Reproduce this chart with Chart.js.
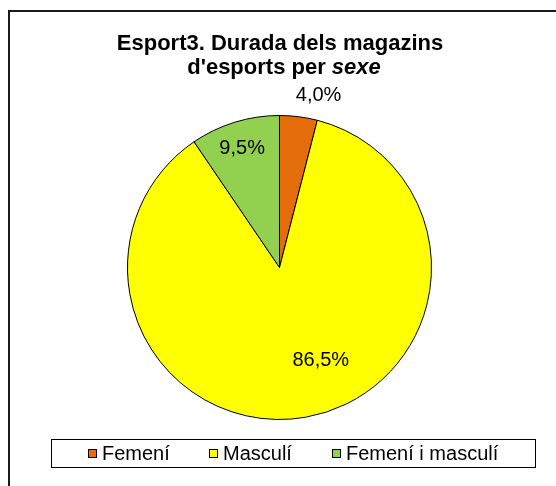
<!DOCTYPE html>
<html>
<head>
<meta charset="utf-8">
<title>Esport3. Durada dels magazins d'esports per sexe</title>
<script src="https://cdn.jsdelivr.net/npm/chart.js@4/dist/chart.umd.min.js"></script>
<style>
  html, body { margin: 0; padding: 0; background: #fff; }
  canvas { display: block; }
</style>
</head>
<body>
<canvas id="sexChart" width="556" height="486"></canvas>
<script>
// Chart data
const categories = ['Femení', 'Masculí', 'Femení i masculí'];
const shares = [4.0, 86.5, 9.5];
const sliceColors = ['#E46C0A', '#FFFF00', '#92D050'];

// Where each percent label sits: [fraction of radius, fraction along the slice]
const labelPlacement = [[1.16, 0.89], [0.67, 0.455], [0.82, 0.49]];

const FONT = 'Arial, "Liberation Sans", sans-serif';

function formatPct(v) {
    return v.toFixed(1).replace('.', ',') + '%';
}

// Outer frame, title, data labels and legend box
const decorations = {
    id: 'decorations',
    beforeDraw(chart) {
        const ctx = chart.ctx;
        ctx.save();
        ctx.strokeStyle = '#1a1a1a';
        ctx.lineWidth = 2;
        ctx.beginPath();
        ctx.moveTo(9, chart.height);
        ctx.lineTo(9, 11);
        ctx.lineTo(chart.width, 11);
        ctx.stroke();
        ctx.restore();
    },
    afterDraw(chart) {
        const ctx = chart.ctx;
        ctx.save();
        ctx.fillStyle = '#000';

        // Title (second line has "sexe" in italic)
        ctx.textBaseline = 'alphabetic';
        ctx.textAlign = 'center';
        ctx.font = 'bold 22px ' + FONT;
        ctx.fillText('Esport3. Durada dels magazins', 280, 50);
        const partA = "d'esports per ";
        const partB = 'sexe';
        ctx.font = 'bold 22px ' + FONT;
        const wA = ctx.measureText(partA).width;
        ctx.font = 'italic bold 22px ' + FONT;
        const wB = ctx.measureText(partB).width;
        let x0 = 284 - (wA + wB) / 2;
        ctx.textAlign = 'left';
        ctx.font = 'bold 22px ' + FONT;
        ctx.fillText(partA, x0, 74);
        ctx.font = 'italic bold 22px ' + FONT;
        ctx.fillText(partB, x0 + wA, 74);

        // Percent labels
        const meta = chart.getDatasetMeta(0);
        ctx.font = '20px ' + FONT;
        ctx.textAlign = 'center';
        ctx.textBaseline = 'middle';
        meta.data.forEach((arc, i) => {
            const p = arc.getProps(['x', 'y', 'startAngle', 'endAngle', 'outerRadius'], true);
            const [rf, af] = labelPlacement[i];
            const a = p.startAngle + (p.endAngle - p.startAngle) * af;
            const r = p.outerRadius * rf;
            ctx.fillText(formatPct(shares[i]), p.x + Math.cos(a) * r, p.y + Math.sin(a) * r);
        });

        // Legend
        const box = { left: 51, top: 439, right: 535, bottom: 467 };
        ctx.strokeStyle = '#000';
        ctx.lineWidth = 1;
        ctx.strokeRect(box.left + 0.5, box.top + 0.5, box.right - box.left, box.bottom - box.top);

        const marker = 9, gap = 5, spacing = 40;
        ctx.font = '20px ' + FONT;
        const widths = categories.map(c => ctx.measureText(c).width);
        const total = widths.reduce((s, w) => s + marker + gap + w, 0) + spacing * (categories.length - 1);
        let x = (box.left + box.right) / 2 - total / 2;
        const cy = (box.top + box.bottom) / 2 + 0.5;
        ctx.textAlign = 'left';
        ctx.textBaseline = 'middle';
        categories.forEach((c, i) => {
            const mx = Math.round(x);
            ctx.fillStyle = sliceColors[i];
            ctx.fillRect(mx, Math.round(cy - marker / 2), marker, marker);
            ctx.strokeStyle = '#000';
            ctx.strokeRect(mx + 0.5, Math.round(cy - marker / 2) + 0.5, marker - 1, marker - 1);
            ctx.fillStyle = '#000';
            ctx.fillText(c, mx + marker + gap, cy + 1);
            x += marker + gap + widths[i] + spacing;
        });
        ctx.restore();
    }
};

const ctx = document.getElementById('sexChart').getContext('2d');
new Chart(ctx, {
    type: 'pie',
    data: {
        labels: categories,
        datasets: [{
            data: shares,
            backgroundColor: sliceColors,
            borderColor: '#000',
            borderWidth: 1
        }]
    },
    options: {
        responsive: false,
        animation: false,
        layout: {
            padding: { top: 115, bottom: 66, left: 127, right: 124 }
        },
        plugins: {
            legend: { display: false },
            title: { display: false },
            tooltip: { enabled: false }
        }
    },
    plugins: [decorations]
});
</script>
</body>
</html>
